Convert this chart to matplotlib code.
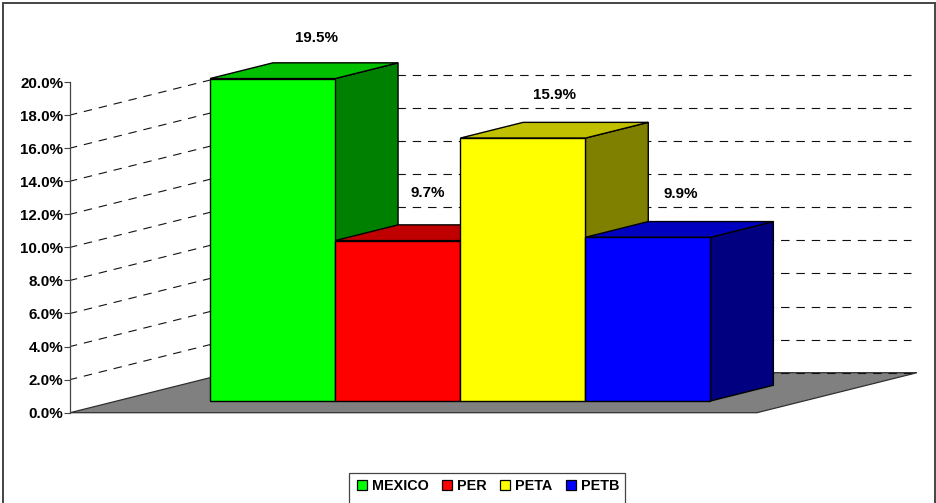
import matplotlib
matplotlib.use("Agg")
import matplotlib.pyplot as plt
from matplotlib.patches import Polygon, Patch, Rectangle

plt.rcParams['font.family'] = ['Liberation Sans', 'DejaVu Sans']
plt.rcParams['font.weight'] = 'bold'
plt.rcParams['lines.scale_dashes'] = False

# data
categories = ["MEXICO", "PER", "PETA", "PETB"]
values = [19.5, 9.7, 15.9, 9.9]
value_labels = ["19.5%", "9.7%", "15.9%", "9.9%"]
grid_levels = [2, 4, 6, 8, 10, 12, 14, 16, 18]
y_ticks = [0, 2, 4, 6, 8, 10, 12, 14, 16, 18, 20]

# style
front_colors = ["#00FF00", "#FF0000", "#FFFF00", "#0000FF"]
side_colors = ["#008000", "#800000", "#808000", "#000080"]
top_colors = ["#00C000", "#C00000", "#C0C000", "#0000C0"]
label_offsets_px = [(44, 41), (30, 48), (32, 43), (33, 43)]

W, H = 936, 503
fig = plt.figure(figsize=(W / 100, H / 100), dpi=100, facecolor="white")

# outer frame and legend box (both run off the bottom edge of the image)
fig.add_artist(Rectangle((3 / W, -0.05), 932 / W, 1.05 - 3.5 / H, transform=fig.transFigure,
                         fill=False, ec="#444444", lw=1.4))

ax_l, ax_r, ax_b, ax_t = 70, 757, 412.7, 82
ax = fig.add_axes([ax_l / W, 1 - ax_b / H, (ax_r - ax_l) / W, (ax_b - ax_t) / H])
ax.patch.set_alpha(0)
UNIT = 125.1                      # px per category
X0 = 163.2                        # px of category 0 in the wall plane
xl, xr = (ax_l - X0) / UNIT, (ax_r - X0) / UNIT
ax.set_xlim(xl, xr)
ax.set_ylim(0, 20)
PX_Y = (ax_b - ax_t) / 20
DX, DY = 160 / UNIT, 40 / PX_Y    # full depth of the floor
D_FRONT, D_BACK = 0.293, 0.686    # bar depth


def proj(x, y, d):
    return (x + d * DX, y + d * DY)


# floor
ax.add_patch(Polygon([proj(xl, 0, 0), proj(xr, 0, 0), proj(xr, 0, 1), proj(xl, 0, 1)],
                     closed=True, fc="#808080", ec="#303030", lw=0.9, zorder=1, clip_on=False))

# gridlines
xe = (911 - X0) / UNIT - DX
for lv in [0] + grid_levels:
    if lv:
        p0, p1 = proj(xl, lv, 0), proj(xl, lv, 1)
        ax.plot([p0[0], p1[0]], [p0[1], p1[1]], color="#111111", lw=0.8,
                ls=(0.8, (6.1, 4.95)), zorder=2, clip_on=False)
    p0, p1 = proj(xl, lv, 1), proj(xe, lv, 1)
    ax.plot([p0[0], p1[0]], [p0[1], p1[1]], color="#111111", lw=0.8,
            ls=(1.4, (6.1, 4.95)), zorder=2, clip_on=False)

# bars
for i, (v, fc, sc, tc) in enumerate(zip(values, front_colors, side_colors, top_colors)):
    z = 3 + i
    ax.add_patch(Polygon([proj(i + 1, 0, D_FRONT), proj(i + 1, 0, D_BACK),
                          proj(i + 1, v, D_BACK), proj(i + 1, v, D_FRONT)],
                         fc=sc, ec="black", lw=1, zorder=z, clip_on=False))
    ax.add_patch(Polygon([proj(i, v, D_FRONT), proj(i + 1, v, D_FRONT),
                          proj(i + 1, v, D_BACK), proj(i, v, D_BACK)],
                         fc=tc, ec="black", lw=1, zorder=z, clip_on=False))
    fx, fy = proj(i, 0, D_FRONT)
    ax.bar(fx, v, width=1, bottom=fy, align="edge", color=fc, edgecolor="black",
           linewidth=1, zorder=z + 0.5, clip_on=False)
    ox, oy = label_offsets_px[i]
    ax.annotate(value_labels[i], xy=(fx + 0.5, fy + v), xytext=(ox, oy),
                textcoords="offset pixels", ha="center", va="center",
                fontsize=10.9, fontweight="bold", color="black", zorder=20,
                annotation_clip=False)

# axis
ax.set_yticks(y_ticks)
ax.set_yticklabels([f"{t:.1f}%" for t in y_ticks], fontsize=10.9, fontweight="bold", color="black")
ax.set_xticks([])
ax.tick_params(axis="y", length=4.3, width=0.8, color="#444444", pad=0.5)
for s in ["top", "right", "bottom"]:
    ax.spines[s].set_visible(False)
ax.spines["left"].set_color("#444444")
ax.spines["left"].set_linewidth(0.9)

# legend
fig.add_artist(Rectangle((348.5 / W, -0.05), 276.5 / W, 0.05 + (503 - 473) / H,
                         transform=fig.transFigure, fill=True, fc="white",
                         ec="#444444", lw=0.9))
handles = [Patch(fc=c, ec="black", lw=0.9, label=n) for c, n in zip(front_colors, categories)]
leg = fig.legend(handles=handles, ncol=4, loc="center left",
                 bbox_to_anchor=(357 / W, 1 - 486 / H), frameon=False,
                 prop={"size": 10.4, "weight": "bold"}, handlelength=0.7, handleheight=0.7,
                 handletextpad=0.36, columnspacing=0.9, borderpad=0, borderaxespad=0)
for t in leg.get_texts():
    t.set_color("black")

fig.savefig("out.png", dpi=100)
